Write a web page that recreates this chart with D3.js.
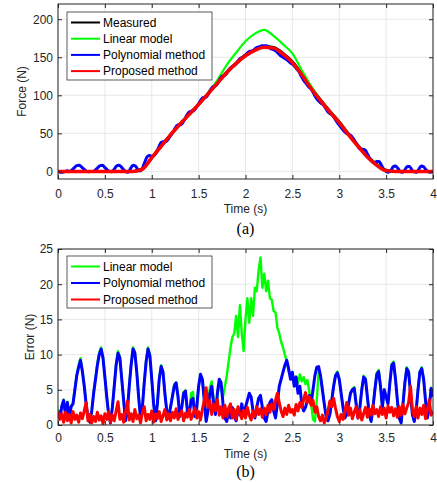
<!DOCTYPE html>
<html lang="en">
<head>
<meta charset="UTF-8">
<title>Force estimation and error</title>
<script src="https://d3js.org/d3.v7.min.js"></script>
<style>
  body { margin: 0; background: #fff; }
  svg { display: block; font-family: 'Liberation Sans', Arial, Helvetica, sans-serif; }
  .tick text { font-size: 12px; fill: #262626; }
  .tick line { stroke: #262626; }
  .domain { display: none; }
  .grid line { stroke: #e2e2e2; stroke-width: 0.8; }
  .label { font-size: 12px; fill: #262626; }
  .caption { font-family: 'Liberation Serif', 'Times New Roman', serif; font-size: 16px; fill: #000; }
  .legend text { font-size: 12px; fill: #000; }
</style>
</head>
<body>
<svg id="chart" width="437" height="483"></svg>
<script>
// ---- data -------------------------------------------------------------
// (a) force, sampled every 0.1 s from 0 to 4 s
const timeForce = d3.range(0, 41).map(i => i / 10);
const measured = [
  0, 0, 0, 0, 0, 0, 0, 0, 0, 3,
  18, 33, 48, 62, 75, 88, 102, 116, 130, 142,
  153, 160, 164, 163, 155, 144, 128, 110, 94, 79,
  65, 49, 34, 20, 9, 1.5, 0, 0, 0, 0,
  0
];
const linearModel = [
  0, 0, 0, 0, 0, 0, 0, 0, 0, 3,
  18, 33, 48, 62, 75, 88, 103, 120, 140, 156,
  171, 181, 186, 178, 167, 155, 133, 112, 94, 79,
  65, 49, 34, 20, 9, 1.5, 0, 0, 0, 0,
  0
];
const proposed = [
  0, 0, 0, 0, 0, 0, 0, 0, 0, 3,
  18, 33, 48, 62, 75, 88, 102, 116, 130, 142,
  152, 159, 163, 162, 154, 143, 127, 109, 93, 78,
  64, 48, 33, 19, 8, 1, 0, 0, 0, 0,
  0
];
// polynomial method, every 0.025 s (it oscillates)
const timePoly = d3.range(0, 161).map(i => i * 0.025);
const polynomial = [
  0, -1, -1, 0, 1, 0, 2, 5,
  7.5, 8, 6, 3, 0.5, -0.5, 0, 0,
  2, 5, 7.5, 8, 5, 2, 0, -0.5,
  3, 7, 8, 6, 2, -0.5, -1, 4,
  8, 7, 3, 0.5, 4, 12, 19, 21,
  20, 21, 25, 32, 38, 39, 39, 42,
  47, 51, 57, 61, 61, 63, 68, 74,
  78, 79, 80, 84, 89, 94, 97, 97,
  101, 107, 111, 112, 115, 121, 125, 126,
  129, 134, 137, 139, 141, 146, 149, 150,
  153, 156, 158, 158, 161, 163, 164, 165,
  165, 165, 163, 161, 160, 158, 155, 152,
  150, 148, 146, 143, 141, 138, 134, 130,
  124, 119, 115, 111, 108, 103, 97, 93,
  90, 88, 84, 79, 76, 74, 70, 65,
  61, 57, 53, 50, 49, 47, 43, 38,
  33, 29, 29, 28, 23, 17, 13, 11,
  13, 13, 8, 3, 0, -1, 1, 6,
  7, 4, 0, -1, 2, 6.5, 6.5, 2,
  -0.5, -1, 3, 7, 6, 2, -0.5, -1,
  0
];

// (b) error, sampled every 0.02 s
const timeError = d3.range(0, 201).map(i => i * 0.02);
const errLinear = [
  2.2, 1.2, 2.8, 3.6, 1.6, 3.3, 1.2, 2.7, 3.1, 5.2,
  7.2, 8.5, 9.5, 7.8, 5.6, 3.1, 1.0, 0.4, 2.1, 4.7,
  6.7, 8.8, 10.3, 11.0, 9.7, 6.9, 4.1, 1.5, 0.3, 2.6,
  5.7, 8.8, 10.5, 9.7, 6.6, 3.6, 0.6, 2.1, 5.7, 8.8,
  11.0, 10.4, 7.6, 4.1, 1.0, 2.6, 6.2, 9.2, 11.0, 10.0,
  6.6, 3.1, 0.6, 3.1, 6.7, 8.5, 7.7, 4.6, 2.0, 1.2,
  2.6, 4.2, 5.8, 6.0, 4.2, 1.2, 2.6, 4.7, 4.9, 2.0,
  1.6, 4.5, 4.7, 1.3, 2.6, 5.6, 7.0, 6.3, 3.6, 0.6,
  2.2, 5.4, 6.2, 3.6, 1.8, 4.2, 6.0, 5.0, 4.0, 5.5,
  7.0, 9.0, 11.0, 12.5, 13.0, 15.5, 12.5, 17.0, 13.0, 10.5,
  15.0, 18.0, 14.5, 18.0, 15.5, 19.5, 19.0, 22.0, 23.8, 19.5,
  21.5, 19.0, 20.5, 18.0, 17.8, 16.2, 16.0, 13.8, 13.0, 11.8,
  11.0, 10.0, 9.0, 7.6, 7.0, 6.5, 5.8, 6.9, 6.0, 7.2,
  6.2, 6.8, 5.8, 6.4, 4.8, 3.0, 0.8, 0.5, 3.5, 7.5,
  7.2, 5.2, 3.1, 1.2, 0.6, 1.5, 3.6, 5.6, 7.1, 7.6,
  6.6, 4.6, 2.5, 1.0, 1.5, 3.1, 4.6, 5.1, 5.4, 3.0,
  1.0, 2.6, 5.1, 7.0, 6.6, 4.0, 1.5, 0.5, 2.6, 5.1,
  7.4, 7.8, 5.6, 2.5, 5.1, 4.1, 3.0, 6.1, 8.7, 9.0,
  6.6, 3.5, 1.0, 0.3, 3.1, 6.1, 8.2, 7.7, 4.6, 1.5,
  0.5, 2.1, 5.1, 7.7, 8.2, 6.6, 3.6, 1.0, 2.6, 5.3,
  4.1
];
const errPoly = [
  2.0, 1.0, 2.6, 3.5, 1.4, 3.2, 1.0, 2.6, 3.0, 5.0,
  7.0, 8.2, 9.2, 7.6, 5.5, 3.0, 1.0, 0.4, 2.0, 4.5,
  6.5, 8.5, 10.0, 10.8, 9.5, 6.8, 4.0, 1.5, 0.3, 2.5,
  5.5, 8.5, 10.2, 9.5, 6.5, 3.5, 0.6, 2.0, 5.5, 8.5,
  10.8, 10.2, 7.5, 4.0, 1.0, 2.5, 6.0, 9.0, 10.8, 9.8,
  6.5, 3.0, 0.6, 3.0, 6.5, 8.3, 7.5, 4.5, 2.0, 1.2,
  2.5, 4.0, 5.5, 6.0, 4.0, 1.2, 2.5, 4.5, 4.8, 2.0,
  1.5, 3.5, 3.8, 1.2, 2.5, 5.5, 7.2, 6.5, 3.5, 0.5,
  2.0, 4.5, 5.5, 3.0, 1.5, 4.5, 6.5, 6.0, 3.0, 1.0,
  0.5, 2.0, 1.0, 2.5, 1.2, 0.6, 2.2, 1.5, 3.0, 1.5,
  2.5, 3.5, 4.5, 4.0, 2.0, 1.0, 2.5, 3.8, 4.2, 2.5,
  1.0, 0.5, 2.0, 3.2, 3.6, 2.0, 1.0, 3.0, 5.5, 6.5,
  7.5, 8.5, 9.2, 8.0, 6.5, 7.5, 5.5, 6.8, 4.5, 5.5,
  3.0, 2.0, 2.5, 3.5, 4.2, 3.0, 5.0, 7.0, 8.2, 8.3,
  7.0, 5.0, 3.0, 1.2, 0.6, 1.5, 3.5, 5.5, 7.0, 7.4,
  6.5, 4.5, 2.5, 1.0, 1.5, 3.0, 4.5, 5.0, 5.2, 3.0,
  1.0, 2.5, 5.0, 6.8, 6.5, 4.0, 1.5, 0.5, 2.5, 5.0,
  7.2, 7.6, 5.5, 2.5, 5.0, 4.0, 3.0, 6.0, 8.5, 8.8,
  6.5, 3.5, 1.0, 0.3, 3.0, 6.0, 8.0, 7.5, 4.5, 1.5,
  0.5, 2.0, 5.0, 7.5, 8.0, 6.5, 3.5, 1.0, 2.5, 5.2,
  4.0
];
const errProposed = [
  2.0, 0.8, 1.6, 0.4, 1.8, 0.6, 1.5, 0.3, 1.9, 0.8,
  1.4, 0.4, 1.7, 0.9, 2.0, 3.2, 0.6, 1.5, 0.3, 1.2,
  0.5, 1.8, 0.7, 1.3, 0.2, 1.6, 0.8, 1.9, 0.4, 1.4,
  0.6, 2.0, 3.3, 0.8, 1.5, 0.4, 1.8, 3.4, 0.7, 1.6,
  0.5, 2.2, 0.9, 1.4, 0.3, 1.8, 2.6, 0.6, 1.5, 0.8,
  2.0, 0.4, 1.6, 0.9, 1.9, 0.5, 1.3, 2.2, 0.7, 1.6,
  0.6, 1.8, 1.0, 2.3, 0.8, 1.5, 2.0, 0.6, 1.7, 1.1,
  2.2, 0.8, 1.6, 2.4, 1.0, 1.9, 0.7, 2.2, 3.5, 5.3,
  2.5, 3.4, 1.5, 3.0, 2.0, 3.6, 1.4, 2.6, 1.0, 2.8,
  1.2, 2.4, 3.0, 1.0, 2.2, 0.8, 2.6, 1.6, 0.9, 2.1,
  1.0, 2.5, 1.4, 0.7, 2.0, 1.2, 2.6, 1.5, 2.3, 1.1,
  2.4, 1.5, 2.8, 1.8, 3.0, 2.2, 3.5, 4.5, 3.2, 2.0,
  1.2, 2.4, 1.5, 2.8, 1.8, 2.2, 1.4, 2.9, 2.0, 3.2,
  2.5, 3.6, 4.6, 3.2, 4.0, 2.8, 3.5, 1.8, 2.6, 1.2,
  0.6, 1.4, 0.3, 1.0, 2.0, 3.4, 2.6, 3.8, 2.4, 1.2,
  0.5, 1.5, 0.8, 2.0, 3.2, 1.4, 2.4, 0.9, 1.8, 2.6,
  1.0, 2.2, 0.7, 1.6, 2.5, 1.1, 2.3, 1.4, 2.8, 1.6,
  2.2, 1.2, 2.6, 1.5, 2.4, 1.0, 2.7, 1.8, 2.5, 1.3,
  2.3, 1.1, 2.6, 1.4, 2.9, 1.6, 2.4, 3.2, 5.5, 2.2,
  1.2, 2.6, 1.0, 2.4, 1.5, 2.8, 0.9, 2.2, 3.6, 1.4,
  2.0
];

const timeTicks = [0, 0.5, 1, 1.5, 2, 2.5, 3, 3.5, 4];
const forceTicks = [0, 50, 100, 150, 200];
const errorTicks = [0, 5, 10, 15, 20, 25];

// ---- drawing ---------------------------------------------------------
const svg = d3.select("#chart");

function drawPanel(p) {
  const x = d3.scaleLinear().domain([0, 4]).range([p.left, p.right]);
  const y = d3.scaleLinear().domain(p.yDomain).range([p.bottom, p.top]);
  const g = svg.append("g");

  // grid
  const grid = g.append("g").attr("class", "grid");
  grid.selectAll(".gx").data(timeTicks).join("line")
    .attr("x1", d => x(d)).attr("x2", d => x(d))
    .attr("y1", p.top).attr("y2", p.bottom);
  grid.selectAll(".gy").data(p.yTicks).join("line")
    .attr("class", "gy")
    .attr("x1", p.left).attr("x2", p.right)
    .attr("y1", d => y(d)).attr("y2", d => y(d));

  // series, clipped to the plot box
  const clipId = "clip-" + p.name;
  svg.append("clipPath").attr("id", clipId).append("rect")
    .attr("x", p.left).attr("y", p.top)
    .attr("width", p.right - p.left).attr("height", p.bottom - p.top);
  const lines = g.append("g").attr("clip-path", `url(#${clipId})`);
  p.series.forEach(s => {
    const line = d3.line()
      .x((d, i) => x(s.t[i]))
      .y(d => y(d))
      .curve(s.curve || d3.curveLinear);
    lines.append("path")
      .datum(s.values)
      .attr("fill", "none")
      .attr("stroke", s.color)
      .attr("stroke-width", s.width)
      .attr("stroke-linejoin", "round")
      .attr("d", line);
  });

  // axes with inward ticks on all four sides
  g.append("g").attr("transform", `translate(0,${p.bottom})`)
    .call(d3.axisBottom(x).tickValues(timeTicks).tickSize(-4).tickPadding(p.xPad)
      .tickFormat(d3.format("")));
  g.append("g").attr("transform", `translate(0,${p.top})`)
    .call(d3.axisTop(x).tickValues(timeTicks).tickSize(-4).tickFormat(""));
  g.append("g").attr("transform", `translate(${p.left},0)`)
    .call(d3.axisLeft(y).tickValues(p.yTicks).tickSize(-4).tickPadding(5));
  g.append("g").attr("transform", `translate(${p.right},0)`)
    .call(d3.axisRight(y).tickValues(p.yTicks).tickSize(-4).tickFormat(""));

  g.append("rect")
    .attr("x", p.left).attr("y", p.top)
    .attr("width", p.right - p.left).attr("height", p.bottom - p.top)
    .attr("fill", "none").attr("stroke", "#262626").attr("stroke-width", 1);

  // axis labels
  g.append("text").attr("class", "label")
    .attr("x", (p.left + p.right) / 2).attr("y", p.xLabelY)
    .attr("text-anchor", "middle").attr("dy", "0.35em")
    .text("Time (s)");
  g.append("text").attr("class", "label")
    .attr("transform", `translate(${p.yLabelX},${(p.top + p.bottom) / 2}) rotate(-90)`)
    .attr("text-anchor", "middle").attr("dy", "0.35em")
    .text(p.yLabel);
  g.append("text").attr("class", "caption")
    .attr("x", (p.left + p.right) / 2).attr("y", p.captionY)
    .attr("text-anchor", "middle").attr("dy", "0.35em")
    .text(p.caption);

  // legend
  const lg = g.append("g").attr("class", "legend");
  lg.append("rect")
    .attr("x", p.legend.x).attr("y", p.legend.y)
    .attr("width", p.legend.w).attr("height", p.legend.h)
    .attr("fill", "#fff").attr("stroke", "#333").attr("stroke-width", 0.8);
  p.series.forEach((s, i) => {
    const ly = p.legend.y + p.legend.first + i * p.legend.step;
    lg.append("line")
      .attr("x1", p.legend.x + 4).attr("x2", p.legend.x + 33)
      .attr("y1", ly).attr("y2", ly)
      .attr("stroke", s.color).attr("stroke-width", 2);
    lg.append("text")
      .attr("x", p.legend.x + 36).attr("y", ly)
      .attr("dy", "0.35em")
      .text(s.name);
  });
}

drawPanel({
  name: "a", left: 58, right: 433, top: 4, bottom: 179,
  yDomain: [-10, 220], yTicks: forceTicks, yLabel: "Force (N)",
  xPad: 10, xLabelY: 209, yLabelX: 22, caption: "(a)", captionY: 228,
  legend: { x: 67, y: 12, w: 145, h: 68, first: 10.5, step: 16.2 },
  series: [
    { name: "Measured", t: timeForce, values: measured, color: "#000000", width: 3, curve: d3.curveMonotoneX },
    { name: "Linear model", t: timeForce, values: linearModel, color: "#00ff00", width: 2.2, curve: d3.curveMonotoneX },
    { name: "Polynomial method", t: timePoly, values: polynomial, color: "#0000ff", width: 3, curve: d3.curveMonotoneX },
    { name: "Proposed method", t: timeForce, values: proposed, color: "#ff0000", width: 3.5, curve: d3.curveMonotoneX }
  ]
});

drawPanel({
  name: "b", left: 58, right: 433, top: 249, bottom: 425,
  yDomain: [0, 25], yTicks: errorTicks, yLabel: "Error (N)",
  xPad: 8, xLabelY: 454, yLabelX: 30, caption: "(b)", captionY: 471,
  legend: { x: 67, y: 256, w: 145, h: 52, first: 10.5, step: 16.5 },
  series: [
    { name: "Linear model", t: timeError, values: errLinear, color: "#00ff00", width: 2.4 },
    { name: "Polynomial method", t: timeError, values: errPoly, color: "#0000ff", width: 3 },
    { name: "Proposed method", t: timeError, values: errProposed, color: "#ff0000", width: 3 }
  ]
});
</script>
</body>
</html>
